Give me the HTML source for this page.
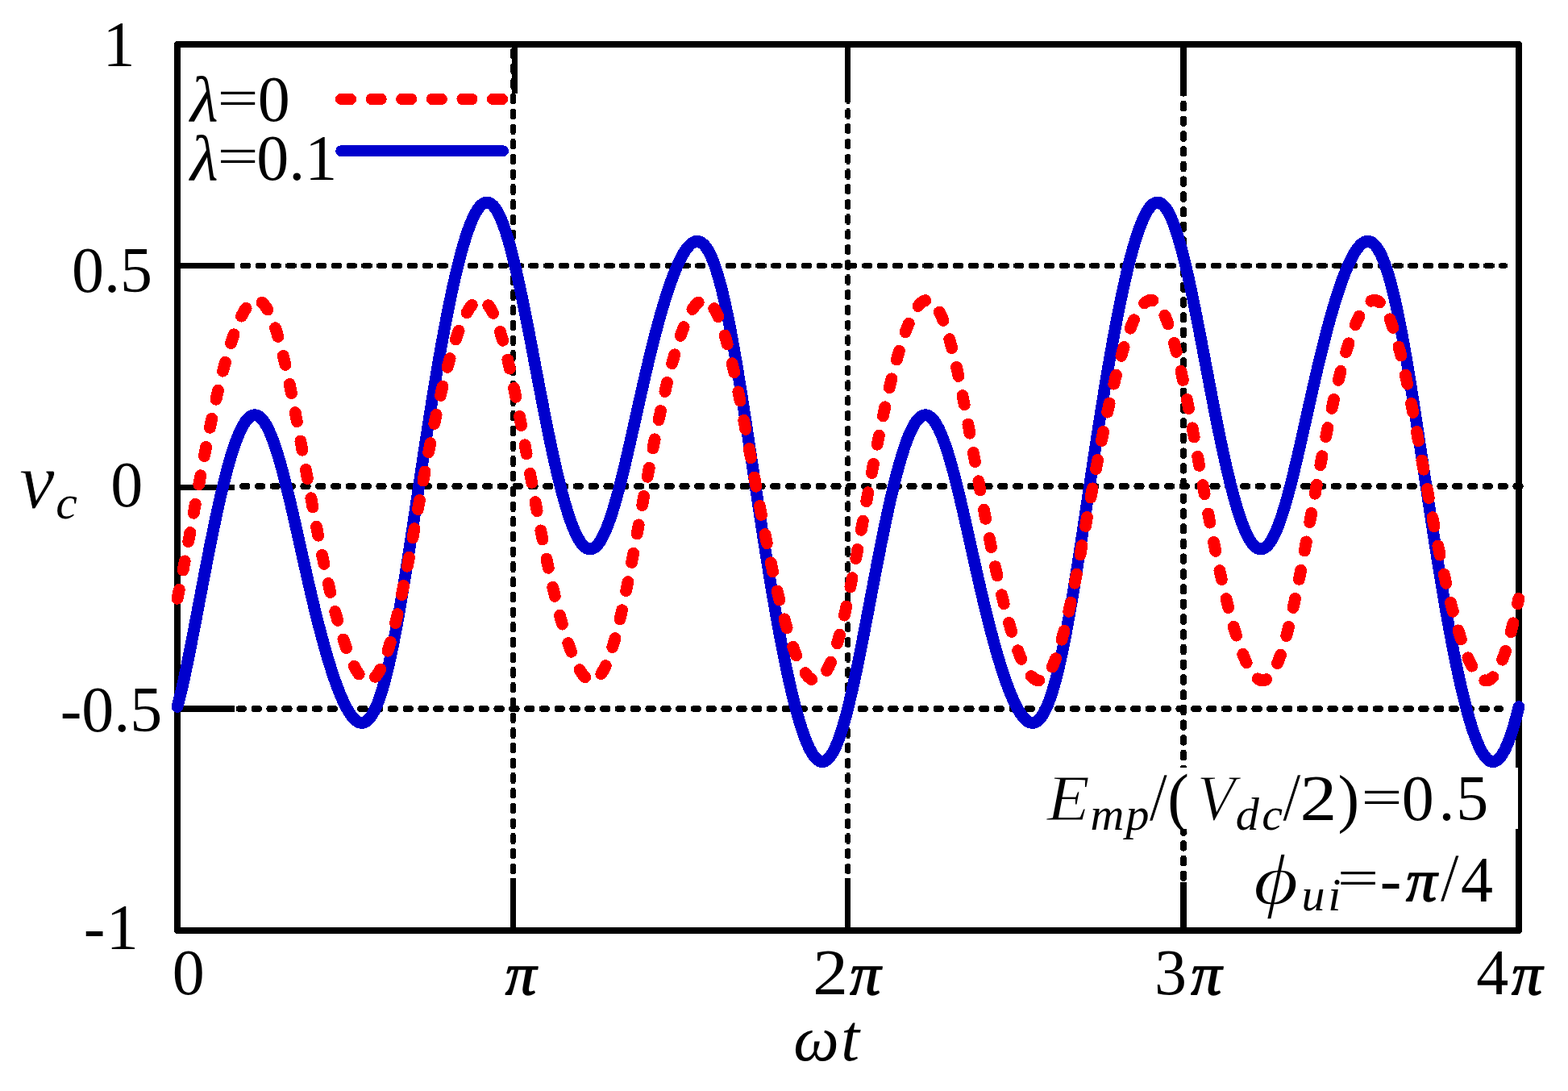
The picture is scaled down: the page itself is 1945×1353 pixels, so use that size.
<!DOCTYPE html>
<html lang="en">
<head>
<meta charset="utf-8">
<title>v_c versus ωt</title>
<style>
html,body{margin:0;padding:0;background:#fff;}
body{width:1945px;height:1353px;overflow:hidden;}
svg{display:block;}
text{white-space:pre;}
</style>
</head>
<body>
<svg width="1945" height="1353" viewBox="0 0 1945 1353" font-family="'Liberation Serif', 'DejaVu Serif', serif" fill="#000">
<rect width="1945" height="1353" fill="#fff"/>
<g shape-rendering="crispEdges">
<g stroke="#000" fill="none">
<path d="M299.3 329.5H1868.4" stroke-width="7.2" stroke-dasharray="10.4 8.41"/>
<path d="M297.9 329.5H1869.8" stroke-width="4.4" stroke-dasharray="13.2 5.61"/>
<path d="M301.1 603H1888" stroke-width="8" stroke-linecap="round" stroke-dasharray="5.4 13.4"/>
<path d="M296.8 879H1861.2" stroke-width="8" stroke-linecap="round" stroke-dasharray="5.4 13.4"/>
<path d="M636.4 61.3V1098.6" stroke-width="7.2" stroke-dasharray="10.4 8.32"/>
<path d="M636.4 59.9V1100" stroke-width="4.4" stroke-dasharray="13.2 5.52"/>
<path d="M1051.6 60.8V1098.6" stroke-width="6.9" stroke-dasharray="10.5 8.23"/>
<path d="M1051.6 59.4V1100" stroke-width="4.1" stroke-dasharray="13.3 5.43"/>
<path d="M1468 72.65V1096" stroke-width="8" stroke-linecap="round" stroke-dasharray="5.6 13.12"/>
</g>
<g stroke="#000" fill="none">
<path d="M220 329.45H291" stroke-width="7.0"/>
<path d="M220 604.5H291" stroke-width="6.8"/>
<path d="M220 878.9H291" stroke-width="7.8"/>
<path d="M638.4 55V115.5" stroke-width="7.0"/>
<path d="M1051.6 55V116.5" stroke-width="6.9"/>
<path d="M1468.05 55V118.5" stroke-width="8.0"/>
<path d="M636.6 1154V1089.3" stroke-width="6.8"/>
<path d="M1051.4 1154V1089.0" stroke-width="6.9"/>
<path d="M1468.1 1154V1094.2" stroke-width="7.8"/>
</g>
<rect x="220.0" y="54.9" width="1663.9" height="1099.05" fill="none" stroke="#000" stroke-width="8" stroke-linejoin="round"/>
<path d="M220 876.5 222.1 868.3 224.2 859.8 226.3 851 228.3 841.9 230.3 832.5 232.3 822.9 234.3 813 236.3 803 238.3 792.8 240.3 782.5 242.3 772.1 244.3 761.6 246.3 751.1 248.3 740.5 250.3 730 252.3 719.5 254.3 709.1 256.3 698.7 258.3 688.4 260.3 678.3 262.3 668.3 264.3 658.5 266.3 648.8 268.3 639.4 270.3 630.2 272.3 621.2 274.3 612.5 276.3 604.1 278.3 595.9 280.3 588.1 282.3 580.6 284.3 573.4 286.3 566.6 288.3 560.1 290.3 554 292.3 548.3 294.3 543.1 296.3 538.2 298.3 533.7 300.3 529.7 302.3 526.2 304.3 523.1 306.3 520.5 308.3 518.3 310.3 516.7 312.3 515.5 314.3 514.9 316.3 514.7 318.3 515 320.3 515.9 322.3 517.2 324.3 519.1 326.3 521.4 328.3 524.2 330.3 527.5 332.3 531.3 334.3 535.5 336.3 540.2 338.3 545.3 340.3 550.8 342.3 556.7 344.3 563 346.3 569.6 348.3 576.6 350.3 583.9 352.3 591.4 354.3 599.2 356.3 607.3 358.3 615.5 360.3 623.9 362.3 632.5 364.3 641.2 366.3 650 368.3 658.9 370.3 667.8 372.3 676.8 374.3 685.8 376.3 694.7 378.3 703.6 380.3 712.4 382.3 721.2 384.3 729.9 386.3 738.4 388.3 746.9 390.3 755.2 392.3 763.3 394.3 771.3 396.3 779.1 398.3 786.8 400.3 794.2 402.3 801.5 404.3 808.5 406.3 815.4 408.3 822 410.3 828.4 412.3 834.6 414.3 840.5 416.3 846.3 418.3 851.7 420.3 856.9 422.3 861.9 424.3 866.5 426.3 870.9 428.3 875 430.3 878.7 432.3 882.2 434.3 885.3 436.3 888 438.3 890.4 440.3 892.5 442.3 894.1 444.3 895.3 446.3 896.1 448.3 896.4 450.3 896.3 452.3 895.7 454.3 894.6 456.3 893 458.3 891 460.3 888.3 462.3 885.2 464.3 881.5 466.3 877.3 468.3 872.5 470.3 867.2 472.3 861.4 474.3 855 476.3 848.1 478.3 840.6 480.3 832.6 482.3 824.1 484.3 815.2 486.3 805.8 488.3 795.9 490.3 785.6 492.3 774.9 494.3 763.8 496.3 752.3 498.3 740.6 500.3 728.5 502.3 716.2 504.3 703.6 506.3 690.9 508.3 677.9 510.3 664.9 512.3 651.7 514.3 638.4 516.3 625.1 518.3 611.7 520.3 598.4 522.3 585.1 524.3 571.8 526.3 558.6 528.3 545.5 530.3 532.6 532.3 519.8 534.3 507.1 536.3 494.6 538.3 482.3 540.3 470.2 542.3 458.3 544.3 446.6 546.3 435.2 548.3 424 550.3 413.1 552.3 402.5 554.3 392.1 556.3 382 558.3 372.2 560.3 362.7 562.3 353.6 564.3 344.7 566.3 336.2 568.3 328 570.3 320.1 572.3 312.6 574.3 305.5 576.3 298.8 578.3 292.4 580.3 286.5 582.3 281 584.3 275.9 586.3 271.2 588.3 267 590.3 263.3 592.3 260 594.3 257.2 596.3 255 598.3 253.2 600.3 252 602.3 251.3 604.3 251.1 606.3 251.4 608.3 252.3 610.3 253.8 612.3 255.7 614.3 258.3 616.3 261.3 618.3 264.9 620.3 269 622.3 273.6 624.3 278.8 626.3 284.4 628.3 290.5 630.3 297 632.3 304 634.3 311.4 636.3 319.2 638.3 327.4 640.3 335.9 642.3 344.7 644.3 353.8 646.3 363.2 648.3 372.8 650.3 382.7 652.3 392.7 654.3 402.9 656.3 413.2 658.3 423.6 660.3 434.1 662.3 444.6 664.3 455.2 666.3 465.7 668.3 476.2 670.3 486.6 672.3 497 674.3 507.3 676.3 517.4 678.3 527.4 680.3 537.2 682.3 546.9 684.3 556.3 686.3 565.5 688.3 574.5 690.3 583.2 692.3 591.6 694.3 599.8 696.3 607.6 698.3 615.1 700.3 622.3 702.3 629.1 704.3 635.6 706.3 641.7 708.3 647.4 710.3 652.7 712.3 657.5 714.3 662 716.3 666 718.3 669.5 720.3 672.6 722.3 675.2 724.3 677.4 726.3 679 728.3 680.2 730.3 680.8 732.3 681 734.3 680.7 736.3 679.8 738.3 678.5 740.3 676.7 742.3 674.3 744.3 671.5 746.3 668.2 748.3 664.4 750.3 660.2 752.3 655.5 754.3 650.4 756.3 644.9 758.3 639 760.3 632.7 762.3 626.1 764.3 619.1 766.3 611.8 768.3 604.3 770.3 596.5 772.3 588.4 774.3 580.2 776.3 571.8 778.3 563.2 780.3 554.5 782.3 545.7 784.3 536.8 786.3 527.9 788.3 518.9 790.3 509.9 792.3 501 794.3 492.1 796.3 483.3 798.3 474.5 800.3 465.8 802.3 457.3 804.3 448.8 806.3 440.5 808.3 432.4 810.3 424.4 812.3 416.6 814.3 408.9 816.3 401.5 818.3 394.2 820.3 387.2 822.3 380.3 824.3 373.7 826.3 367.3 828.3 361.1 830.3 355.2 832.3 349.4 834.3 344 836.3 338.8 838.3 333.9 840.3 329.2 842.3 324.8 844.3 320.7 846.3 317 848.3 313.5 850.3 310.4 852.3 307.7 854.3 305.3 856.3 303.2 858.3 301.6 860.3 300.4 862.3 299.6 864.3 299.3 866.3 299.4 868.3 300 870.3 301.1 872.3 302.7 874.3 304.7 876.3 307.4 878.3 310.5 880.3 314.2 882.3 318.4 884.3 323.2 886.3 328.5 888.3 334.3 890.3 340.7 892.3 347.7 894.3 355.1 896.3 363.1 898.3 371.6 900.3 380.5 902.3 389.9 904.3 399.8 906.3 410.1 908.3 420.8 910.3 431.9 912.3 443.4 914.3 455.1 916.3 467.2 918.3 479.5 920.3 492.1 922.3 504.8 924.3 517.8 926.3 530.8 928.3 544 930.3 557.3 932.3 570.6 934.3 584 936.3 597.3 938.3 610.6 940.3 623.9 942.3 637.1 944.3 650.2 946.3 663.1 948.3 676 950.3 688.6 952.3 701.1 954.3 713.4 956.3 725.5 958.3 737.4 960.3 749.1 962.3 760.5 964.3 771.7 966.3 782.6 968.3 793.2 970.3 803.6 972.3 813.7 974.3 823.5 976.3 833 978.3 842.1 980.3 851 982.3 859.5 984.3 867.7 986.3 875.6 988.3 883.1 990.3 890.2 992.3 896.9 994.3 903.3 996.3 909.2 998.3 914.7 1000.3 919.8 1002.3 924.5 1004.3 928.7 1006.3 932.4 1008.3 935.7 1010.3 938.5 1012.3 940.7 1014.3 942.5 1016.3 943.7 1018.3 944.5 1020.3 944.6 1022.3 944.3 1024.3 943.4 1026.3 941.9 1028.3 940 1030.3 937.4 1032.3 934.4 1034.3 930.8 1036.3 926.7 1038.3 922.1 1040.3 916.9 1042.3 911.3 1044.3 905.2 1046.3 898.7 1048.3 891.7 1050.3 884.3 1052.2 876.5 1054.2 868.3 1056.2 859.8 1058.2 851 1060.2 841.9 1062.2 832.5 1064.2 822.9 1066.2 813 1068.2 803 1070.2 792.8 1072.2 782.5 1074.2 772.1 1076.2 761.6 1078.2 751.1 1080.2 740.5 1082.2 730 1084.2 719.5 1086.2 709.1 1088.2 698.7 1090.2 688.4 1092.2 678.3 1094.2 668.3 1096.2 658.5 1098.2 648.8 1100.2 639.4 1102.2 630.2 1104.2 621.2 1106.2 612.5 1108.2 604.1 1110.2 595.9 1112.2 588.1 1114.2 580.6 1116.2 573.4 1118.2 566.6 1120.2 560.1 1122.2 554 1124.2 548.3 1126.2 543.1 1128.2 538.2 1130.2 533.7 1132.2 529.7 1134.2 526.2 1136.2 523.1 1138.2 520.5 1140.2 518.3 1142.2 516.7 1144.2 515.5 1146.2 514.9 1148.2 514.7 1150.2 515 1152.2 515.9 1154.2 517.2 1156.2 519.1 1158.2 521.4 1160.2 524.2 1162.2 527.5 1164.2 531.3 1166.2 535.5 1168.2 540.2 1170.2 545.3 1172.2 550.8 1174.2 556.7 1176.2 563 1178.2 569.6 1180.2 576.6 1182.2 583.9 1184.2 591.4 1186.2 599.2 1188.2 607.3 1190.2 615.5 1192.2 623.9 1194.2 632.5 1196.2 641.2 1198.2 650 1200.2 658.9 1202.2 667.8 1204.2 676.8 1206.2 685.8 1208.2 694.7 1210.2 703.6 1212.2 712.4 1214.2 721.2 1216.2 729.9 1218.2 738.4 1220.2 746.9 1222.2 755.2 1224.2 763.3 1226.2 771.3 1228.2 779.1 1230.2 786.8 1232.2 794.2 1234.2 801.5 1236.2 808.5 1238.2 815.4 1240.2 822 1242.2 828.4 1244.2 834.6 1246.2 840.5 1248.2 846.3 1250.2 851.7 1252.2 856.9 1254.2 861.9 1256.2 866.5 1258.2 870.9 1260.2 875 1262.2 878.7 1264.2 882.2 1266.2 885.3 1268.2 888 1270.2 890.4 1272.2 892.5 1274.2 894.1 1276.2 895.3 1278.2 896.1 1280.2 896.4 1282.2 896.3 1284.2 895.7 1286.2 894.6 1288.2 893 1290.2 891 1292.2 888.3 1294.2 885.2 1296.2 881.5 1298.2 877.3 1300.2 872.5 1302.2 867.2 1304.2 861.4 1306.2 855 1308.2 848.1 1310.2 840.6 1312.2 832.6 1314.2 824.1 1316.2 815.2 1318.2 805.8 1320.2 795.9 1322.2 785.6 1324.2 774.9 1326.2 763.8 1328.2 752.3 1330.2 740.6 1332.2 728.5 1334.2 716.2 1336.2 703.6 1338.2 690.9 1340.2 677.9 1342.2 664.9 1344.2 651.7 1346.2 638.4 1348.2 625.1 1350.2 611.7 1352.2 598.4 1354.2 585.1 1356.2 571.8 1358.2 558.6 1360.2 545.5 1362.2 532.6 1364.2 519.8 1366.2 507.1 1368.2 494.6 1370.2 482.3 1372.2 470.2 1374.2 458.3 1376.2 446.6 1378.2 435.2 1380.2 424 1382.2 413.1 1384.2 402.5 1386.2 392.1 1388.2 382 1390.2 372.2 1392.2 362.7 1394.2 353.6 1396.2 344.7 1398.2 336.2 1400.2 328 1402.2 320.1 1404.2 312.6 1406.2 305.5 1408.2 298.8 1410.2 292.4 1412.2 286.5 1414.2 281 1416.2 275.9 1418.2 271.2 1420.2 267 1422.2 263.3 1424.2 260 1426.2 257.2 1428.2 255 1430.2 253.2 1432.2 252 1434.2 251.3 1436.2 251.1 1438.2 251.4 1440.2 252.3 1442.2 253.8 1444.2 255.7 1446.2 258.3 1448.2 261.3 1450.2 264.9 1452.2 269 1454.2 273.6 1456.2 278.8 1458.2 284.4 1460.2 290.5 1462.2 297 1464.2 304 1466.2 311.4 1468.2 319.2 1470.2 327.4 1472.2 335.9 1474.2 344.7 1476.2 353.8 1478.2 363.2 1480.2 372.8 1482.2 382.7 1484.2 392.7 1486.2 402.9 1488.2 413.2 1490.2 423.6 1492.2 434.1 1494.2 444.6 1496.2 455.2 1498.2 465.7 1500.2 476.2 1502.2 486.6 1504.2 497 1506.2 507.3 1508.2 517.4 1510.2 527.4 1512.2 537.2 1514.2 546.9 1516.2 556.3 1518.2 565.5 1520.2 574.5 1522.2 583.2 1524.2 591.6 1526.2 599.8 1528.2 607.6 1530.2 615.1 1532.2 622.3 1534.2 629.1 1536.2 635.6 1538.2 641.7 1540.2 647.4 1542.2 652.7 1544.2 657.5 1546.2 662 1548.2 666 1550.2 669.5 1552.2 672.6 1554.2 675.2 1556.2 677.4 1558.2 679 1560.2 680.2 1562.2 680.8 1564.2 681 1566.2 680.7 1568.2 679.8 1570.2 678.5 1572.2 676.7 1574.2 674.3 1576.2 671.5 1578.2 668.2 1580.2 664.4 1582.2 660.2 1584.2 655.5 1586.2 650.4 1588.2 644.9 1590.2 639 1592.2 632.7 1594.2 626.1 1596.2 619.1 1598.2 611.8 1600.2 604.3 1602.2 596.5 1604.2 588.4 1606.2 580.2 1608.2 571.8 1610.2 563.2 1612.2 554.5 1614.2 545.7 1616.2 536.8 1618.2 527.9 1620.2 518.9 1622.2 509.9 1624.2 501 1626.2 492.1 1628.2 483.3 1630.2 474.5 1632.2 465.8 1634.2 457.3 1636.2 448.8 1638.2 440.5 1640.2 432.4 1642.2 424.4 1644.2 416.6 1646.2 408.9 1648.2 401.5 1650.2 394.2 1652.2 387.2 1654.2 380.3 1656.2 373.7 1658.2 367.3 1660.2 361.1 1662.2 355.2 1664.2 349.4 1666.2 344 1668.2 338.8 1670.2 333.9 1672.2 329.2 1674.2 324.8 1676.2 320.7 1678.2 317 1680.2 313.5 1682.2 310.4 1684.2 307.7 1686.2 305.3 1688.2 303.2 1690.2 301.6 1692.2 300.4 1694.2 299.6 1696.2 299.3 1698.2 299.4 1700.2 300 1702.2 301.1 1704.2 302.7 1706.2 304.7 1708.2 307.4 1710.2 310.5 1712.2 314.2 1714.2 318.4 1716.2 323.2 1718.2 328.5 1720.2 334.3 1722.2 340.7 1724.2 347.7 1726.2 355.1 1728.2 363.1 1730.2 371.6 1732.2 380.5 1734.2 389.9 1736.2 399.8 1738.2 410.1 1740.2 420.8 1742.2 431.9 1744.2 443.4 1746.2 455.1 1748.2 467.2 1750.2 479.5 1752.2 492.1 1754.2 504.8 1756.2 517.8 1758.2 530.8 1760.2 544 1762.2 557.3 1764.2 570.6 1766.2 584 1768.2 597.3 1770.2 610.6 1772.2 623.9 1774.2 637.1 1776.2 650.2 1778.2 663.1 1780.2 676 1782.2 688.6 1784.2 701.1 1786.2 713.4 1788.2 725.5 1790.2 737.4 1792.2 749.1 1794.2 760.5 1796.2 771.7 1798.2 782.6 1800.2 793.2 1802.2 803.6 1804.2 813.7 1806.2 823.5 1808.2 833 1810.2 842.1 1812.2 851 1814.2 859.5 1816.2 867.7 1818.2 875.6 1820.2 883.1 1822.2 890.2 1824.2 896.9 1826.2 903.3 1828.2 909.2 1830.2 914.7 1832.2 919.8 1834.2 924.5 1836.2 928.7 1838.2 932.4 1840.2 935.7 1842.2 938.5 1844.2 940.7 1846.2 942.5 1848.2 943.7 1850.2 944.5 1852.2 944.6 1854.2 944.3 1856.2 943.4 1858.2 941.9 1860.2 940 1862.2 937.4 1864.2 934.4 1866.2 930.8 1868.2 926.7 1870.2 922.1 1872.2 916.9 1874.2 911.3 1876.2 905.2 1878.2 898.7 1880.1 891.7 1882 884.3 1883.9 876.5" fill="none" stroke="#0000cd" stroke-width="14.8" stroke-linecap="round" stroke-linejoin="round"/>
<path d="M220 742.3 222 732.7 224 722.8 226 712.7 228 702.3 230 691.8 232 681.1 234 670.4 236 659.5 238 648.5 240 637.6 242 626.6 244 615.7 246 604.9 248 594.1 250 583.4 252 572.9 254 562.5 256 552.3 258 542.3 260 532.4 262 522.8 264 513.4 266 504.2 268 495.3 270 486.6 272 478.2 274 470.1 276 462.2 278 454.6 280 447.3 282 440.2 284 433.5 286 427.1 288 420.9 290 415.1 292 409.6 294 404.5 296 399.6 298 395.2 300 391 302 387.3 304 384 306 381 308 378.4 310 376.3 312 374.6 314 373.4 316 372.6 318 372.3 320 372.5 322 373.1 324 374.3 326 376 328 378.2 330 380.9 332 384.1 334 387.9 336 392.2 338 397 340 402.3 342 408.1 344 414.5 346 421.2 348 428.5 350 436.2 352 444.2 354 452.7 356 461.6 358 470.8 360 480.3 362 490.1 364 500.2 366 510.4 368 520.9 370 531.5 372 542.3 374 553.1 376 564.1 378 575 380 586 382 596.9 384 607.8 386 618.6 388 629.3 390 639.9 392 650.3 394 660.6 396 670.7 398 680.6 400 690.3 402 699.8 404 709 406 718 408 726.8 410 735.3 412 743.5 414 751.5 416 759.2 418 766.6 420 773.7 422 780.6 424 787.1 426 793.3 428 799.2 430 804.8 432 810.1 434 815.1 436 819.6 438 823.9 440 827.7 442 831.2 444 834.3 446 837 448 839.3 450 841.1 452 842.5 454 843.5 456 843.9 458 843.9 460 843.4 462 842.4 464 840.9 466 838.9 468 836.3 470 833.2 472 829.7 474 825.5 476 820.9 478 815.8 480 810.1 482 804 484 797.3 486 790.2 488 782.7 490 774.7 492 766.4 494 757.6 496 748.6 498 739.1 500 729.4 502 719.5 504 709.3 506 698.8 508 688.3 510 677.6 512 666.7 514 655.8 516 644.9 518 633.9 520 623 522 612.1 524 601.3 526 590.5 528 579.9 530 569.4 532 559.1 534 548.9 536 539 538 529.2 540 519.6 542 510.3 544 501.2 546 492.4 548 483.8 550 475.5 552 467.4 554 459.6 556 452.1 558 444.9 560 437.9 562 431.3 564 425 566 418.9 568 413.2 570 407.9 572 402.8 574 398.1 576 393.7 578 389.8 580 386.1 582 382.9 584 380.1 586 377.7 588 375.7 590 374.2 592 373.1 594 372.4 596 372.3 598 372.6 600 373.5 602 374.8 604 376.7 606 379 608 381.9 610 385.3 612 389.3 614 393.7 616 398.7 618 404.2 620 410.2 622 416.7 624 423.6 626 431 628 438.8 630 447 632 455.7 634 464.6 636 473.9 638 483.6 640 493.4 642 503.6 644 513.9 646 524.4 648 535.1 650 545.9 652 556.8 654 567.7 656 578.7 658 589.6 660 600.5 662 611.4 664 622.1 666 632.8 668 643.3 670 653.7 672 664 674 674 676 683.8 678 693.5 680 702.9 682 712 684 721 686 729.6 688 738 690 746.2 692 754.1 694 761.7 696 769 698 776 700 782.8 702 789.2 704 795.3 706 801.1 708 806.6 710 811.8 712 816.6 714 821.1 716 825.2 718 828.9 720 832.3 722 835.3 724 837.8 726 839.9 728 841.6 730 842.9 732 843.7 734 844 736 843.8 738 843.1 740 842 742 840.3 744 838.1 746 835.4 748 832.1 750 828.3 752 824.1 754 819.2 756 813.9 758 808.1 760 801.8 762 795 764 787.8 766 780.1 768 772 770 763.5 772 754.7 774 745.5 776 735.9 778 726.1 780 716.1 782 705.8 784 695.3 786 684.7 788 674 790 663.1 792 652.2 794 641.2 796 630.3 798 619.4 800 608.5 802 597.7 804 587 806 576.4 808 566 810 555.7 812 545.6 814 535.7 816 526 818 516.5 820 507.3 822 498.2 824 489.5 826 481 828 472.7 830 464.8 832 457.1 834 449.7 836 442.5 838 435.7 840 429.2 842 422.9 844 417 846 411.4 848 406.1 850 401.2 852 396.6 854 392.4 856 388.5 858 385 860 381.9 862 379.2 864 377 866 375.1 868 373.7 870 372.8 872 372.3 874 372.3 876 372.8 878 373.8 880 375.4 882 377.4 884 379.9 886 383 888 386.6 890 390.7 892 395.4 894 400.5 896 406.2 898 412.3 900 418.9 902 426 904 433.5 906 441.5 908 449.9 910 458.6 912 467.7 914 477.1 916 486.8 918 496.8 920 507 922 517.4 924 528 926 538.7 928 549.5 930 560.4 932 571.4 934 582.3 936 593.2 938 604.1 940 615 942 625.7 944 636.3 946 646.8 948 657.2 950 667.3 952 677.3 954 687.1 956 696.6 958 705.9 960 715 962 723.9 964 732.5 966 740.8 968 748.9 970 756.6 972 764.2 974 771.4 976 778.3 978 784.9 980 791.3 982 797.3 984 803 986 808.4 988 813.4 990 818.2 992 822.5 994 826.5 996 830.1 998 833.3 1000 836.2 1002 838.6 1004 840.6 1006 842.1 1008 843.2 1010 843.8 1012 844 1014 843.6 1016 842.8 1018 841.5 1020 839.6 1022 837.2 1024 834.3 1026 830.9 1028 827 1030 822.5 1032 817.5 1034 812 1036 806.1 1038 799.6 1040 792.7 1042 785.3 1044 777.4 1046 769.2 1048 760.6 1050 751.6 1052 742.3 1053.9 732.7 1055.9 722.8 1057.9 712.7 1059.9 702.3 1061.9 691.8 1063.9 681.1 1065.9 670.4 1067.9 659.5 1069.9 648.5 1071.9 637.6 1073.9 626.6 1075.9 615.7 1077.9 604.9 1079.9 594.1 1081.9 583.4 1083.9 572.9 1085.9 562.5 1087.9 552.3 1089.9 542.3 1091.9 532.4 1093.9 522.8 1095.9 513.4 1097.9 504.2 1099.9 495.3 1101.9 486.6 1103.9 478.2 1105.9 470.1 1107.9 462.2 1109.9 454.6 1111.9 447.3 1113.9 440.2 1115.9 433.5 1117.9 427.1 1119.9 420.9 1121.9 415.1 1123.9 409.6 1125.9 404.5 1127.9 399.6 1129.9 395.2 1131.9 391 1133.9 387.3 1135.9 384 1137.9 381 1139.9 378.4 1141.9 376.3 1143.9 374.6 1145.9 373.4 1147.9 372.6 1149.9 372.3 1151.9 372.5 1153.9 373.1 1155.9 374.3 1157.9 376 1159.9 378.2 1161.9 380.9 1163.9 384.1 1165.9 387.9 1167.9 392.2 1169.9 397 1171.9 402.3 1173.9 408.1 1175.9 414.5 1177.9 421.2 1179.9 428.5 1181.9 436.2 1183.9 444.2 1185.9 452.7 1187.9 461.6 1189.9 470.8 1191.9 480.3 1193.9 490.1 1195.9 500.2 1197.9 510.4 1199.9 520.9 1201.9 531.5 1203.9 542.3 1205.9 553.1 1207.9 564.1 1209.9 575 1211.9 586 1213.9 596.9 1215.9 607.8 1217.9 618.6 1219.9 629.3 1221.9 639.9 1223.9 650.3 1225.9 660.6 1227.9 670.7 1229.9 680.6 1231.9 690.3 1233.9 699.8 1235.9 709 1237.9 718 1239.9 726.8 1241.9 735.3 1243.9 743.5 1245.9 751.5 1247.9 759.2 1249.9 766.6 1251.9 773.7 1253.9 780.6 1255.9 787.1 1257.9 793.3 1259.9 799.2 1261.9 804.8 1263.9 810.1 1265.9 815.1 1267.9 819.6 1269.9 823.9 1271.9 827.7 1273.9 831.2 1275.9 834.3 1277.9 837 1279.9 839.3 1281.9 841.1 1283.9 842.5 1285.9 843.5 1287.9 843.9 1289.9 843.9 1291.9 843.4 1293.9 842.4 1295.9 840.9 1297.9 838.9 1299.9 836.3 1301.9 833.2 1303.9 829.7 1305.9 825.5 1307.9 820.9 1309.9 815.8 1311.9 810.1 1313.9 804 1315.9 797.3 1317.9 790.2 1319.9 782.7 1321.9 774.7 1323.9 766.4 1325.9 757.6 1327.9 748.6 1329.9 739.1 1331.9 729.4 1333.9 719.5 1335.9 709.3 1337.9 698.8 1339.9 688.3 1341.9 677.6 1343.9 666.7 1345.9 655.8 1347.9 644.9 1349.9 633.9 1351.9 623 1353.9 612.1 1355.9 601.3 1357.9 590.5 1359.9 579.9 1361.9 569.4 1363.9 559.1 1365.9 548.9 1367.9 539 1369.9 529.2 1371.9 519.6 1373.9 510.3 1375.9 501.2 1377.9 492.4 1379.9 483.8 1381.9 475.5 1383.9 467.4 1385.9 459.6 1387.9 452.1 1389.9 444.9 1391.9 437.9 1393.9 431.3 1395.9 425 1397.9 418.9 1399.9 413.2 1401.9 407.9 1403.9 402.8 1405.9 398.1 1407.9 393.7 1409.9 389.8 1411.9 386.1 1413.9 382.9 1415.9 380.1 1417.9 377.7 1419.9 375.7 1421.9 374.2 1423.9 373.1 1425.9 372.4 1427.9 372.3 1429.9 372.6 1431.9 373.5 1433.9 374.8 1435.9 376.7 1437.9 379 1439.9 381.9 1441.9 385.3 1443.9 389.3 1445.9 393.7 1447.9 398.7 1449.9 404.2 1451.9 410.2 1453.9 416.7 1455.9 423.6 1457.9 431 1459.9 438.8 1461.9 447 1463.9 455.7 1465.9 464.6 1467.9 473.9 1469.9 483.6 1471.9 493.4 1473.9 503.6 1475.9 513.9 1477.9 524.4 1479.9 535.1 1481.9 545.9 1483.9 556.8 1485.9 567.7 1487.9 578.7 1489.9 589.6 1491.9 600.5 1493.9 611.4 1495.9 622.1 1497.9 632.8 1499.9 643.3 1501.9 653.7 1503.9 664 1505.9 674 1507.9 683.8 1509.9 693.5 1511.9 702.9 1513.9 712 1515.9 721 1517.9 729.6 1519.9 738 1521.9 746.2 1523.9 754.1 1525.9 761.7 1527.9 769 1529.9 776 1531.9 782.8 1533.9 789.2 1535.9 795.3 1537.9 801.1 1539.9 806.6 1541.9 811.8 1543.9 816.6 1545.9 821.1 1547.9 825.2 1549.9 828.9 1551.9 832.3 1553.9 835.3 1555.9 837.8 1557.9 839.9 1559.9 841.6 1561.9 842.9 1563.9 843.7 1565.9 844 1567.9 843.8 1569.9 843.1 1571.9 842 1573.9 840.3 1575.9 838.1 1577.9 835.4 1579.9 832.1 1581.9 828.3 1583.9 824.1 1585.9 819.2 1587.9 813.9 1589.9 808.1 1591.9 801.8 1593.9 795 1595.9 787.8 1597.9 780.1 1599.9 772 1601.9 763.5 1603.9 754.7 1605.9 745.5 1607.9 735.9 1609.9 726.1 1611.9 716.1 1613.9 705.8 1615.9 695.3 1617.9 684.7 1619.9 674 1621.9 663.1 1623.9 652.2 1625.9 641.2 1627.9 630.3 1629.9 619.4 1631.9 608.5 1633.9 597.7 1635.9 587 1637.9 576.4 1639.9 566 1641.9 555.7 1643.9 545.6 1645.9 535.7 1647.9 526 1649.9 516.5 1651.9 507.3 1653.9 498.2 1655.9 489.5 1657.9 481 1659.9 472.7 1661.9 464.8 1663.9 457.1 1665.9 449.7 1667.9 442.5 1669.9 435.7 1671.9 429.2 1673.9 422.9 1675.9 417 1677.9 411.4 1679.9 406.1 1681.9 401.2 1683.9 396.6 1685.9 392.4 1687.9 388.5 1689.9 385 1691.9 381.9 1693.9 379.2 1695.9 377 1697.9 375.1 1699.9 373.7 1701.9 372.8 1703.9 372.3 1705.9 372.3 1707.9 372.8 1709.9 373.8 1711.9 375.4 1713.9 377.4 1715.9 379.9 1717.9 383 1719.9 386.6 1721.9 390.7 1723.9 395.4 1725.9 400.5 1727.9 406.2 1729.9 412.3 1731.9 418.9 1733.9 426 1735.9 433.5 1737.9 441.5 1739.9 449.9 1741.9 458.6 1743.9 467.7 1745.9 477.1 1747.9 486.8 1749.9 496.8 1751.9 507 1753.9 517.4 1755.9 528 1757.9 538.7 1759.9 549.5 1761.9 560.4 1763.9 571.4 1765.9 582.3 1767.9 593.2 1769.9 604.1 1771.9 615 1773.9 625.7 1775.9 636.3 1777.9 646.8 1779.9 657.2 1781.9 667.3 1783.9 677.3 1785.9 687.1 1787.9 696.6 1789.9 705.9 1791.9 715 1793.9 723.9 1795.9 732.5 1797.9 740.8 1799.9 748.9 1801.9 756.6 1803.9 764.2 1805.9 771.4 1807.9 778.3 1809.9 784.9 1811.9 791.3 1813.9 797.3 1815.9 803 1817.9 808.4 1819.9 813.4 1821.9 818.2 1823.9 822.5 1825.9 826.5 1827.9 830.1 1829.9 833.3 1831.9 836.2 1833.9 838.6 1835.9 840.6 1837.9 842.1 1839.9 843.2 1841.9 843.8 1843.9 844 1845.9 843.6 1847.9 842.8 1849.9 841.5 1851.9 839.6 1853.9 837.2 1855.9 834.3 1857.9 830.9 1859.9 827 1861.9 822.5 1863.9 817.5 1865.9 812 1867.9 806.1 1869.9 799.6 1871.9 792.7 1873.9 785.3 1875.9 777.4 1877.9 769.2 1879.9 760.6 1881.9 751.6 1883.9 742.3" fill="none" stroke="#ff0000" stroke-width="14.8" stroke-linecap="round" stroke-linejoin="round" stroke-dasharray="11.4 24.568"/>
<path d="M423.1 122.9H623.3" fill="none" stroke="#ff0000" stroke-width="14.2" stroke-linecap="round" stroke-dasharray="11.9 25.7"/>
<path d="M423 187.2H624.2" fill="none" stroke="#0000cd" stroke-width="13.6" stroke-linecap="round"/>
<rect x="1292" y="951.6" width="591.2" height="76.4" fill="#fff"/>
</g>
<text font-size="80"><tspan x="127.57" y="82.4">1</tspan></text>
<text font-size="80"><tspan x="88.95" y="362.4">0.5</tspan></text>
<text font-size="80"><tspan x="137.25" y="628">0</tspan></text>
<text font-size="80"><tspan x="74.63" y="906.6">-0.5</tspan></text>
<text font-size="80"><tspan x="103.63" y="1177">-</tspan><tspan x="131.77" y="1177">1</tspan></text>
<text font-size="80"><tspan x="24.27" y="630.4" font-size="99" font-style="italic" textLength="43.33" lengthAdjust="spacingAndGlyphs" stroke="#fff" stroke-width="0.8">v</tspan><tspan x="69.15" y="643.2" font-size="60" font-style="italic">c</tspan></text>
<text font-size="80"><tspan x="213.65" y="1233.3">0</tspan></text>
<text font-size="80"><tspan x="626.89" y="1232.58" font-size="74" font-style="italic" textLength="38.64" lengthAdjust="spacingAndGlyphs" stroke="#000" stroke-width="1.4" stroke-linejoin="round">π</tspan></text>
<text font-size="80"><tspan x="1008.16" y="1232.5" textLength="43.65" lengthAdjust="spacingAndGlyphs">2</tspan><tspan x="1054.29" y="1232.58" font-size="74" font-style="italic" textLength="38.26" lengthAdjust="spacingAndGlyphs" stroke="#000" stroke-width="1.4" stroke-linejoin="round">π</tspan></text>
<text font-size="80"><tspan x="1431.97" y="1233.2">3</tspan><tspan x="1477.29" y="1232.58" font-size="74" font-style="italic" textLength="38.26" lengthAdjust="spacingAndGlyphs" stroke="#000" stroke-width="1.4" stroke-linejoin="round">π</tspan></text>
<text font-size="80"><tspan x="1831.24" y="1233.2">4</tspan><tspan x="1874.99" y="1232.58" font-size="74" font-style="italic" textLength="38.35" lengthAdjust="spacingAndGlyphs" stroke="#000" stroke-width="1.4" stroke-linejoin="round">π</tspan></text>
<text font-size="80"><tspan x="984.24" y="1315" font-style="italic">ω</tspan><tspan x="1043.2" y="1315.3" font-size="82" font-style="italic">t</tspan></text>
<text font-size="80"><tspan x="235.95" y="150" font-style="italic">λ</tspan><tspan x="269.48" y="143.51" font-size="64.94" textLength="51.14" lengthAdjust="spacingAndGlyphs">=</tspan><tspan x="319.75" y="150">0</tspan></text>
<text font-size="80"><tspan x="235.95" y="222.5" font-style="italic">λ</tspan><tspan x="269.48" y="216.01" font-size="64.94" textLength="51.14" lengthAdjust="spacingAndGlyphs">=</tspan><tspan x="318.15" y="222.5">0.1</tspan></text>
<text font-size="80"><tspan x="1298.42" y="1016.6" font-style="italic" textLength="53.38" lengthAdjust="spacingAndGlyphs" stroke="#fff" stroke-width="1.2">E</tspan><tspan x="1352.4" y="1028.8" font-size="58" font-style="italic">m</tspan><tspan x="1396.4" y="1028.8" font-size="58" font-style="italic">p</tspan><tspan x="1425.75" y="1017.4" font-size="84.8" textLength="22.23" lengthAdjust="spacingAndGlyphs" stroke="#fff" stroke-width="0.5">/</tspan><tspan x="1448.28" y="1017.2" font-size="81.6" textLength="26.64" lengthAdjust="spacingAndGlyphs">(</tspan><tspan x="1484.85" y="1016.6" font-style="italic" textLength="47.3" lengthAdjust="spacingAndGlyphs" stroke="#fff" stroke-width="1.2">V</tspan><tspan x="1532.74" y="1028.8" font-size="58" font-style="italic">d</tspan><tspan x="1565.22" y="1028.8" font-size="58" font-style="italic">c</tspan><tspan x="1591.25" y="1017.4" font-size="84.8" textLength="22.23" lengthAdjust="spacingAndGlyphs" stroke="#fff" stroke-width="0.5">/</tspan><tspan x="1612.58" y="1017.2" textLength="45.77" lengthAdjust="spacingAndGlyphs">2</tspan><tspan x="1659.42" y="1016.9">)</tspan><tspan x="1688.49" y="1010.61" font-size="64.94" textLength="51.02" lengthAdjust="spacingAndGlyphs">=</tspan><tspan x="1738.75" y="1017.4">0</tspan><tspan x="1784.53" y="1017.4">.</tspan><tspan x="1806.25" y="1017.4">5</tspan></text>
<text font-size="80"><tspan x="1554.82" y="1121.2" font-size="89.2" font-style="italic" textLength="55.91" lengthAdjust="spacingAndGlyphs" stroke="#fff" stroke-width="1.4">ϕ</tspan><tspan x="1614.51" y="1129.2" font-size="58" font-style="italic">u</tspan><tspan x="1647.27" y="1129.2" font-size="58" font-style="italic">i</tspan><tspan x="1658.84" y="1110" font-size="62.94" textLength="51.63" lengthAdjust="spacingAndGlyphs">=</tspan><tspan x="1711.73" y="1118">-</tspan><tspan x="1743.99" y="1116.88" font-size="74" font-style="italic" textLength="38.55" lengthAdjust="spacingAndGlyphs" stroke="#000" stroke-width="1.4" stroke-linejoin="round">π</tspan><tspan x="1786.75" y="1117.4" font-size="84.8" textLength="23" lengthAdjust="spacingAndGlyphs" stroke="#fff" stroke-width="0.5">/</tspan><tspan x="1812.04" y="1118">4</tspan></text>
</svg>
</body>
</html>
